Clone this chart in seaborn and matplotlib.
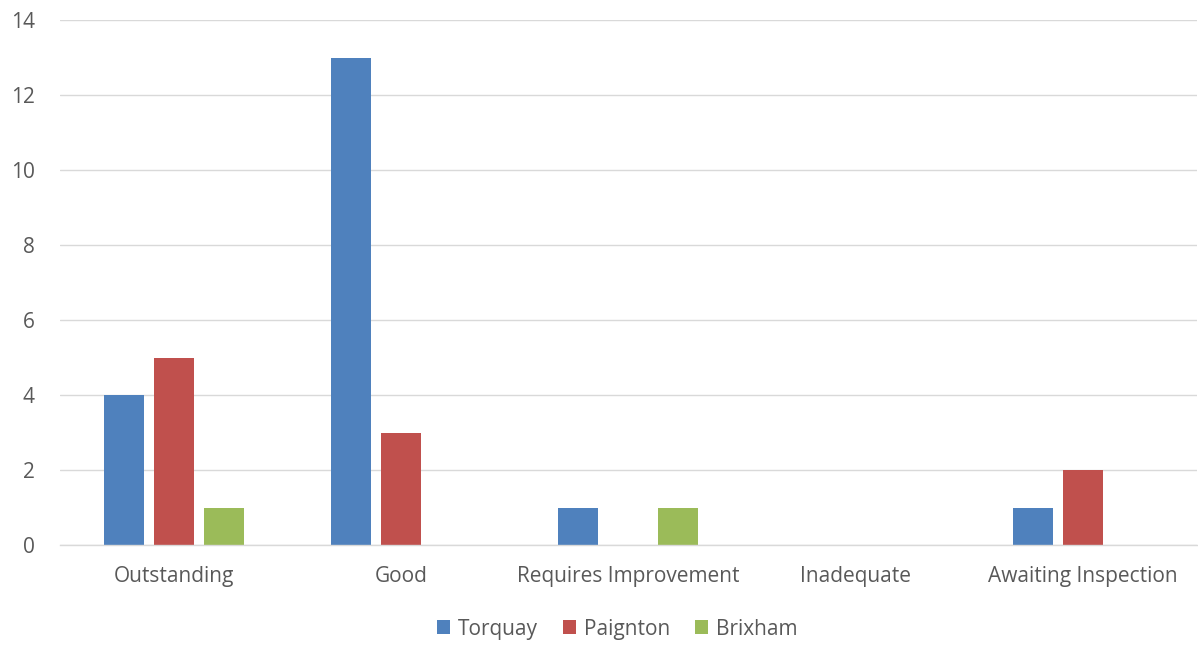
import matplotlib
matplotlib.use("Agg")
import matplotlib.pyplot as plt
import seaborn as sns
import pandas as pd
from matplotlib.patches import Patch

categories = ["Outstanding", "Good", "Requires Improvement", "Inadequate", "Awaiting Inspection"]
series = ["Torquay", "Paignton", "Brixham"]
torquay = [4, 13, 1, 0, 1]
paignton = [5, 3, 0, 0, 2]
brixham = [1, 0, 1, 0, 0]
colors = ["#4F81BD", "#C0504D", "#9BBB59"]

rows = []
for s, vals in zip(series, [torquay, paignton, brixham]):
    for c, v in zip(categories, vals):
        rows.append({"category": c, "series": s, "value": v})
df = pd.DataFrame(rows)

sns.set_style("white")
plt.rcParams["font.family"] = ["Open Sans", "DejaVu Sans"]

fig = plt.figure(figsize=(11.98, 6.46), dpi=100)
ax = fig.add_axes([0.050, 0.156, 0.949, 0.813])

sns.barplot(data=df, x="category", y="value", hue="series", order=categories,
            hue_order=series, palette=colors, width=0.66, gap=0.2,
            saturation=1, ax=ax, legend=False, errorbar=None, linewidth=0)

ax.set_ylim(0, 14)
ax.set_yticks(range(0, 15, 2))
ax.set_xlim(-0.5, 4.5)
ax.yaxis.grid(True, color="#D9D9D9", linewidth=1)
ax.set_axisbelow(True)
for side in ["top", "right", "left"]:
    ax.spines[side].set_visible(False)
ax.spines["bottom"].set_color("#D9D9D9")
ax.spines["bottom"].set_linewidth(1)
ax.set_xlabel("")
ax.set_ylabel("")
ax.tick_params(axis="both", length=0, labelsize=15, colors="#595959")
ax.tick_params(axis="x", pad=15)
ax.tick_params(axis="y", pad=18)

handles = [Patch(facecolor=c, edgecolor="none") for c in colors]
fig.legend(handles, series, loc="center", bbox_to_anchor=(0.515, 0.026), ncol=3,
           frameon=False, fontsize=15, handlelength=0.65, handleheight=0.65,
           handletextpad=0.35, columnspacing=1.2, labelcolor="#595959")

fig.savefig("out.png", dpi=100)
